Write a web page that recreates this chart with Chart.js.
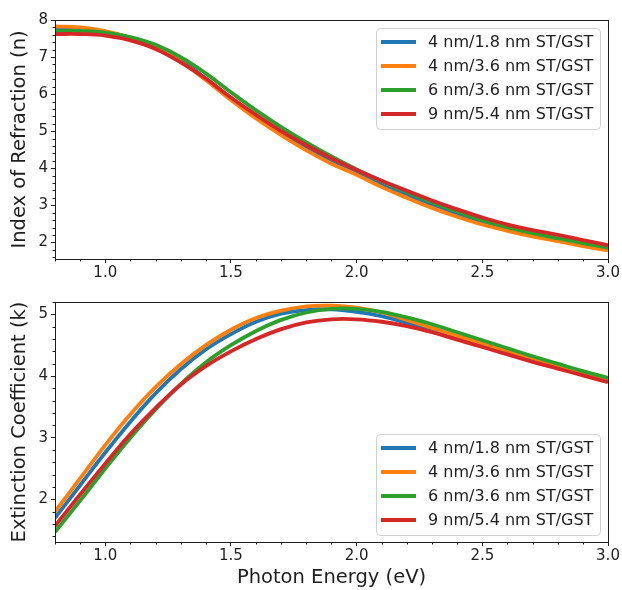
<!DOCTYPE html>
<html>
<head>
<meta charset="utf-8">
<script src="https://cdn.jsdelivr.net/npm/chart.js@4"></script>
<style>
  body { margin: 0; background: #fff; }
  .wrap { position: absolute; left: 0; width: 622px; }
  #top { top: 0; height: 290px; }
  #bot { top: 282px; height: 308px; }
</style>
</head>
<body>
<div class="wrap" id="top"><canvas id="nChart"></canvas></div>
<div class="wrap" id="bot"><canvas id="kChart"></canvas></div>
<script>
// photon energy (eV)
const energy = [0.8, 0.9, 1.0, 1.1, 1.2, 1.3, 1.4, 1.5, 1.6, 1.7, 1.8, 1.9, 2.0, 2.1, 2.2, 2.3, 2.4, 2.5, 2.6, 2.7, 2.8, 2.9, 3.0];

const seriesNames = ['4 nm/1.8 nm ST/GST', '4 nm/3.6 nm ST/GST', '6 nm/3.6 nm ST/GST', '9 nm/5.4 nm ST/GST'];
const seriesColors = ['#1f77b4', '#ff7f0e', '#2ca02c', '#d62728'];

// index of refraction n
const nBlue   = [7.75, 7.74, 7.67, 7.52, 7.29, 6.91, 6.42, 5.88, 5.39, 4.94, 4.54, 4.19, 3.88, 3.55, 3.27, 3.00, 2.75, 2.54, 2.36, 2.21, 2.08, 1.95, 1.82];
const nOrange = [7.83, 7.80, 7.70, 7.52, 7.27, 6.88, 6.38, 5.84, 5.34, 4.89, 4.48, 4.12, 3.82, 3.49, 3.20, 2.93, 2.69, 2.48, 2.31, 2.16, 2.03, 1.90, 1.78];
const nGreen  = [7.70, 7.70, 7.66, 7.54, 7.33, 7.00, 6.56, 6.05, 5.56, 5.11, 4.70, 4.32, 3.97, 3.65, 3.36, 3.08, 2.83, 2.60, 2.41, 2.25, 2.11, 1.98, 1.86];
const nRed    = [7.62, 7.62, 7.58, 7.45, 7.22, 6.86, 6.42, 5.91, 5.44, 5.00, 4.62, 4.27, 3.95, 3.66, 3.39, 3.13, 2.89, 2.67, 2.48, 2.33, 2.20, 2.06, 1.92];

// extinction coefficient k
const kBlue   = [1.70, 2.23, 2.76, 3.26, 3.72, 4.11, 4.43, 4.68, 4.88, 5.01, 5.07, 5.08, 5.04, 4.97, 4.86, 4.74, 4.61, 4.49, 4.37, 4.25, 4.14, 4.03, 3.92];
const kOrange = [1.80, 2.34, 2.88, 3.38, 3.82, 4.19, 4.50, 4.75, 4.94, 5.06, 5.13, 5.14, 5.11, 5.03, 4.91, 4.78, 4.65, 4.53, 4.40, 4.28, 4.16, 4.05, 3.94];
const kGreen  = [1.47, 1.98, 2.50, 3.00, 3.46, 3.87, 4.22, 4.50, 4.73, 4.91, 5.03, 5.09, 5.09, 5.04, 4.95, 4.84, 4.71, 4.58, 4.45, 4.32, 4.20, 4.08, 3.97];
const kRed    = [1.57, 2.08, 2.58, 3.06, 3.48, 3.86, 4.16, 4.40, 4.60, 4.76, 4.87, 4.92, 4.92, 4.88, 4.81, 4.71, 4.59, 4.47, 4.35, 4.23, 4.12, 4.01, 3.90];

// tick labels
const xTicks = [1.0, 1.5, 2.0, 2.5, 3.0];
const nTicks = [2, 3, 4, 5, 6, 7, 8];
const kTicks = [2, 3, 4, 5];

const FONT = "'DejaVu Sans', sans-serif";
const INK = '#1e1e1e';

function makeDatasets(arrays) {
  return arrays.map((vals, i) => ({
    label: seriesNames[i],
    data: vals.map((v, j) => ({ x: energy[j], y: v })),
    borderColor: seriesColors[i],
    borderWidth: 3.8,
    pointRadius: 0,
    tension: 0.4,
    order: 4 - i   // red ends up on top
  }));
}

// frame, minor ticks and an inset legend, matplotlib style
const boxPlugin = {
  id: 'boxLegend',
  afterDatasetsDraw(chart, args, opts) {
    const { ctx, chartArea: a, scales } = chart;
    ctx.save();
    ctx.strokeStyle = INK;
    ctx.lineWidth = 1;

    // minor ticks
    ctx.beginPath();
    const xs = scales.x;
    for (let v = Math.ceil(xs.min * 10); v <= Math.floor(xs.max * 10); v++) {
      if (v % 5 === 0) continue;
      const px = Math.round(xs.getPixelForValue(v / 10)) + 0.5;
      ctx.moveTo(px, a.bottom); ctx.lineTo(px, a.bottom + 2.5);
    }
    const ys = scales.y;
    for (let v = Math.ceil(ys.min * 5); v <= Math.floor(ys.max * 5); v++) {
      if (v % 5 === 0) continue;
      const py = Math.round(ys.getPixelForValue(v / 5)) + 0.5;
      ctx.moveTo(a.left, py); ctx.lineTo(a.left - 2.5, py);
    }
    ctx.stroke();

    // frame
    ctx.strokeRect(Math.round(a.left) + 0.5, Math.round(a.top) + 0.5,
                   Math.round(a.width), Math.round(a.height));

    // legend
    const w = 224, h = 101;
    const bx = a.right - 8 - w;
    const by = opts.where === 'top' ? a.top + 8 : a.bottom - 7 - h;
    ctx.fillStyle = 'rgba(255,255,255,0.85)';
    ctx.strokeStyle = '#d0d0d0';
    ctx.beginPath();
    ctx.roundRect(bx + 0.5, by + 0.5, w, h, 4);
    ctx.fill();
    ctx.stroke();

    ctx.font = '16px ' + FONT;
    ctx.textBaseline = 'middle';
    chart.data.datasets.forEach((ds, i) => {
      const ry = by + 14 + i * 24;
      ctx.strokeStyle = ds.borderColor;
      ctx.lineWidth = 3.8;
      ctx.beginPath();
      ctx.moveTo(bx + 5, ry); ctx.lineTo(bx + 40, ry);
      ctx.stroke();
      ctx.fillStyle = INK;
      ctx.fillText(ds.label, bx + 52, ry + 1);
    });
    ctx.restore();
  }
};

function makeChart(id, arrays, yMin, yMax, yTicks, yTitle, where, showXTitle, xHeight) {
  return new Chart(document.getElementById(id), {
    type: 'line',
    data: { datasets: makeDatasets(arrays) },
    options: {
      responsive: true,
      maintainAspectRatio: false,
      animation: false,
      layout: { padding: { top: 20, right: 14, left: 0, bottom: 0 } },
      scales: {
        x: {
          type: 'linear',
          min: 0.8,
          max: 3.0,
          afterBuildTicks: s => { s.ticks = xTicks.map(v => ({ value: v })); },
          afterFit: s => { s.height = xHeight; },
          ticks: {
            color: INK,
            font: { family: FONT, size: 15 },
            padding: 1,
            maxRotation: 0,
            callback: v => v.toFixed(1)
          },
          grid: { drawOnChartArea: false, tickLength: 4, tickColor: INK },
          border: { display: false },
          title: {
            display: showXTitle,
            text: 'Photon Energy (eV)',
            color: INK,
            font: { family: FONT, size: 19.5 },
            padding: { top: 0, bottom: 0 }
          }
        },
        y: {
          min: yMin,
          max: yMax,
          afterBuildTicks: s => { s.ticks = yTicks.map(v => ({ value: v })); },
          afterFit: s => { s.width = 55; },
          ticks: {
            color: INK,
            font: { family: FONT, size: 15 },
            padding: 3
          },
          grid: { drawOnChartArea: false, tickLength: 4, tickColor: INK },
          border: { display: false },
          title: {
            display: true,
            text: yTitle,
            color: INK,
            font: { family: FONT, size: 19.5 },
            padding: { top: 8, bottom: 0 }
          }
        }
      },
      plugins: {
        legend: { display: false },
        tooltip: { enabled: false },
        boxLegend: { where: where }
      }
    },
    plugins: [boxPlugin]
  });
}

makeChart('nChart', [nBlue, nOrange, nGreen, nRed], 1.55, 8.0, nTicks,
          'Index of Refraction (n)', 'top', false, 31);
makeChart('kChart', [kBlue, kOrange, kGreen, kRed], 1.31, 5.2, kTicks,
          'Extinction Coefficient (k)', 'bottom', true, 48);
</script>
</body>
</html>
